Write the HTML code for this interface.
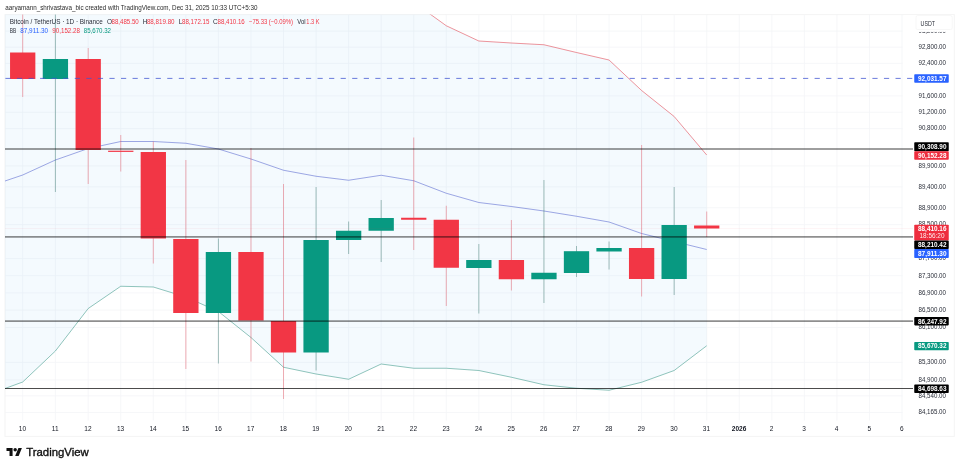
<!DOCTYPE html>
<html lang="en"><head><meta charset="utf-8"><title>BTCUSDT chart</title>
<style>html,body{margin:0;padding:0;background:#fff;overflow:hidden}svg{display:block}text{font-family:"Liberation Sans",sans-serif}</style></head><body>
<svg width="960" height="468" viewBox="0 0 960 468">
<rect width="960" height="468" fill="#fff"/>
<defs><clipPath id="pane"><rect x="5.0" y="14.6" width="908.0" height="405.9"/></clipPath></defs>
<rect x="5.0" y="14.6" width="949.3" height="421.8" fill="none" stroke="#f4f4f4" stroke-width="1"/>
<path d="M22.70,14.6 V420.5 M55.40,14.6 V420.5 M88.21,14.6 V420.5 M120.76,14.6 V420.5 M153.31,14.6 V420.5 M185.86,14.6 V420.5 M218.42,14.6 V420.5 M250.97,14.6 V420.5 M283.52,14.6 V420.5 M316.08,14.6 V420.5 M348.63,14.6 V420.5 M381.18,14.6 V420.5 M413.74,14.6 V420.5 M446.29,14.6 V420.5 M478.84,14.6 V420.5 M511.39,14.6 V420.5 M543.95,14.6 V420.5 M576.50,14.6 V420.5 M609.05,14.6 V420.5 M641.61,14.6 V420.5 M674.16,14.6 V420.5 M706.71,14.6 V420.5 M739.27,14.6 V420.5 M771.82,14.6 V420.5 M804.37,14.6 V420.5 M836.92,14.6 V420.5 M869.48,14.6 V420.5 M902.03,14.6 V420.5 M5.0,31.11 H902.5 M5.0,47.20 H902.5 M5.0,63.36 H902.5 M5.0,95.88 H902.5 M5.0,112.25 H902.5 M5.0,128.68 H902.5 M5.0,165.94 H902.5 M5.0,186.80 H902.5 M5.0,207.78 H902.5 M5.0,224.64 H902.5 M5.0,258.60 H902.5 M5.0,275.70 H902.5 M5.0,292.88 H902.5 M5.0,310.13 H902.5 M5.0,327.47 H902.5 M5.0,362.38 H902.5 M5.0,379.96 H902.5 M5.0,395.85 H902.5 M5.0,412.48 H902.5" stroke="#f4f5f8" stroke-width="0.8" fill="none"/>
<g clip-path="url(#pane)">
<path d="M5.00,-200.00 L22.70,-200.00 L55.40,-200.00 L88.21,-200.00 L120.76,-200.00 L153.31,-200.00 L185.86,-200.00 L218.42,-200.00 L250.97,-200.00 L283.52,-200.00 L316.08,-150.00 L348.63,-100.00 L381.18,-40.00 L413.74,2.30 L446.29,25.75 L478.84,41.00 L511.39,43.00 L543.95,44.75 L576.50,52.50 L609.05,60.00 L641.61,90.50 L674.16,116.50 L706.71,155.00 L706.71,345.75 L674.16,370.50 L641.61,382.25 L609.05,390.25 L576.50,388.25 L543.95,384.75 L511.39,377.25 L478.84,370.50 L446.29,368.25 L413.74,368.25 L381.18,364.00 L348.63,379.25 L316.08,374.00 L283.52,367.25 L250.97,337.50 L218.42,311.50 L185.86,297.00 L153.31,287.00 L120.76,286.25 L88.21,308.50 L55.40,351.00 L22.70,382.00 L5.00,388.50 Z" fill="#2196f3" fill-opacity="0.05"/>
<path d="M5.00,-200.00 L22.70,-200.00 L55.40,-200.00 L88.21,-200.00 L120.76,-200.00 L153.31,-200.00 L185.86,-200.00 L218.42,-200.00 L250.97,-200.00 L283.52,-200.00 L316.08,-150.00 L348.63,-100.00 L381.18,-40.00 L413.74,2.30 L446.29,25.75 L478.84,41.00 L511.39,43.00 L543.95,44.75 L576.50,52.50 L609.05,60.00 L641.61,90.50 L674.16,116.50 L706.71,155.00" fill="none" stroke="#e0404e" stroke-opacity="0.7" stroke-width="0.8"/>
<path d="M5.00,181.00 L22.70,175.00 L55.40,160.00 L88.21,148.50 L120.76,141.50 L153.31,141.50 L185.86,143.25 L218.42,149.00 L250.97,159.00 L283.52,170.25 L316.08,176.25 L348.63,180.25 L381.18,175.25 L413.74,180.75 L446.29,193.25 L478.84,202.50 L511.39,206.50 L543.95,211.00 L576.50,216.25 L609.05,222.00 L641.61,233.50 L674.16,241.50 L706.71,249.50" fill="none" stroke="#3949c6" stroke-opacity="0.6" stroke-width="0.8"/>
<path d="M5.00,388.50 L22.70,382.00 L55.40,351.00 L88.21,308.50 L120.76,286.25 L153.31,287.00 L185.86,297.00 L218.42,311.50 L250.97,337.50 L283.52,367.25 L316.08,374.00 L348.63,379.25 L381.18,364.00 L413.74,368.25 L446.29,368.25 L478.84,370.50 L511.39,377.25 L543.95,384.75 L576.50,388.25 L609.05,390.25 L641.61,382.25 L674.16,370.50 L706.71,345.75" fill="none" stroke="#2a8f7d" stroke-opacity="0.65" stroke-width="0.8"/>
<path d="M22.70,10 V97" stroke="#e03a48" stroke-opacity="0.5" stroke-width="0.8"/>
<rect x="10.05" y="52.5" width="25.3" height="26.50" fill="#f23645"/>
<path d="M55.40,10 V192" stroke="#2f6f64" stroke-opacity="0.55" stroke-width="0.8"/>
<rect x="42.75" y="59" width="25.3" height="20.00" fill="#089981"/>
<path d="M88.21,48 V184" stroke="#e03a48" stroke-opacity="0.5" stroke-width="0.8"/>
<rect x="75.56" y="59" width="25.3" height="91.00" fill="#f23645"/>
<path d="M120.76,135 V171.5" stroke="#e03a48" stroke-opacity="0.5" stroke-width="0.8"/>
<rect x="108.11" y="150.7" width="25.3" height="1.20" fill="#f23645"/>
<path d="M153.31,141.5 V263.5" stroke="#e03a48" stroke-opacity="0.5" stroke-width="0.8"/>
<rect x="140.66" y="152" width="25.3" height="86.50" fill="#f23645"/>
<path d="M185.86,160 V369" stroke="#e03a48" stroke-opacity="0.5" stroke-width="0.8"/>
<rect x="173.21" y="239" width="25.3" height="74.00" fill="#f23645"/>
<path d="M218.42,238.5 V363.5" stroke="#2f6f64" stroke-opacity="0.55" stroke-width="0.8"/>
<rect x="205.77" y="252" width="25.3" height="61.00" fill="#089981"/>
<path d="M250.97,148 V361.5" stroke="#e03a48" stroke-opacity="0.5" stroke-width="0.8"/>
<rect x="238.32" y="252" width="25.3" height="68.50" fill="#f23645"/>
<path d="M283.52,184 V399" stroke="#e03a48" stroke-opacity="0.5" stroke-width="0.8"/>
<rect x="270.87" y="321" width="25.3" height="31.50" fill="#f23645"/>
<path d="M316.08,187 V370.5" stroke="#2f6f64" stroke-opacity="0.55" stroke-width="0.8"/>
<rect x="303.43" y="240" width="25.3" height="112.50" fill="#089981"/>
<path d="M348.63,221.5 V254" stroke="#2f6f64" stroke-opacity="0.55" stroke-width="0.8"/>
<rect x="335.98" y="230.75" width="25.3" height="9.25" fill="#089981"/>
<path d="M381.18,200 V262" stroke="#2f6f64" stroke-opacity="0.55" stroke-width="0.8"/>
<rect x="368.53" y="218" width="25.3" height="12.75" fill="#089981"/>
<path d="M413.74,137.5 V250" stroke="#e03a48" stroke-opacity="0.5" stroke-width="0.8"/>
<rect x="401.09" y="217.75" width="25.3" height="2.00" fill="#f23645"/>
<path d="M446.29,205.75 V306" stroke="#e03a48" stroke-opacity="0.5" stroke-width="0.8"/>
<rect x="433.64" y="219.75" width="25.3" height="48.00" fill="#f23645"/>
<path d="M478.84,244 V313.5" stroke="#2f6f64" stroke-opacity="0.55" stroke-width="0.8"/>
<rect x="466.19" y="260" width="25.3" height="8.00" fill="#089981"/>
<path d="M511.39,220 V290.5" stroke="#e03a48" stroke-opacity="0.5" stroke-width="0.8"/>
<rect x="498.75" y="260" width="25.3" height="19.25" fill="#f23645"/>
<path d="M543.95,180 V303" stroke="#2f6f64" stroke-opacity="0.55" stroke-width="0.8"/>
<rect x="531.30" y="272.75" width="25.3" height="6.50" fill="#089981"/>
<path d="M576.50,246 V277" stroke="#2f6f64" stroke-opacity="0.55" stroke-width="0.8"/>
<rect x="563.85" y="251.2" width="25.3" height="21.80" fill="#089981"/>
<path d="M609.05,241.5 V269.5" stroke="#2f6f64" stroke-opacity="0.55" stroke-width="0.8"/>
<rect x="596.40" y="248" width="25.3" height="3.50" fill="#089981"/>
<path d="M641.61,145 V296.5" stroke="#e03a48" stroke-opacity="0.5" stroke-width="0.8"/>
<rect x="628.96" y="248" width="25.3" height="31.00" fill="#f23645"/>
<path d="M674.16,187 V295" stroke="#2f6f64" stroke-opacity="0.55" stroke-width="0.8"/>
<rect x="661.51" y="225" width="25.3" height="54.00" fill="#089981"/>
<path d="M706.71,211.5 V237" stroke="#e03a48" stroke-opacity="0.5" stroke-width="0.8"/>
<rect x="694.06" y="225.5" width="25.3" height="3.00" fill="#f23645"/>
</g>
<path d="M5.0,228.5 H913.0" stroke="#f23645" stroke-opacity="0.09" stroke-width="0.6"/>
<rect x="5.0" y="148.0" width="908.0" height="2.0" fill="#000" fill-opacity="0.38"/>
<rect x="5.0" y="236.0" width="908.0" height="1.75" fill="#000" fill-opacity="0.44"/>
<rect x="5.0" y="320.25" width="908.0" height="1.75" fill="#000" fill-opacity="0.44"/>
<rect x="5.0" y="388.0" width="908.0" height="1.0" fill="#000" fill-opacity="0.7"/>
<path d="M5.4,78.4 H913.0" stroke="#4257d2" stroke-opacity="0.78" stroke-width="1" stroke-dasharray="5.2 6.36"/>
<g font-size="6.5" fill="#2a2e39">
<text x="918.5" y="33.40" textLength="27.5" lengthAdjust="spacingAndGlyphs">93,200.00</text>
<text x="918.5" y="49.00" textLength="27.5" lengthAdjust="spacingAndGlyphs">92,800.00</text>
<text x="918.5" y="65.16" textLength="27.5" lengthAdjust="spacingAndGlyphs">92,400.00</text>
<text x="918.5" y="97.68" textLength="27.5" lengthAdjust="spacingAndGlyphs">91,600.00</text>
<text x="918.5" y="114.05" textLength="27.5" lengthAdjust="spacingAndGlyphs">91,200.00</text>
<text x="918.5" y="130.48" textLength="27.5" lengthAdjust="spacingAndGlyphs">90,800.00</text>
<text x="918.5" y="167.74" textLength="27.5" lengthAdjust="spacingAndGlyphs">89,900.00</text>
<text x="918.5" y="188.60" textLength="27.5" lengthAdjust="spacingAndGlyphs">89,400.00</text>
<text x="918.5" y="209.58" textLength="27.5" lengthAdjust="spacingAndGlyphs">88,900.00</text>
<text x="918.5" y="226.44" textLength="27.5" lengthAdjust="spacingAndGlyphs">88,500.00</text>
<text x="918.5" y="260.40" textLength="27.5" lengthAdjust="spacingAndGlyphs">87,700.00</text>
<text x="918.5" y="277.50" textLength="27.5" lengthAdjust="spacingAndGlyphs">87,300.00</text>
<text x="918.5" y="294.68" textLength="27.5" lengthAdjust="spacingAndGlyphs">86,900.00</text>
<text x="918.5" y="311.93" textLength="27.5" lengthAdjust="spacingAndGlyphs">86,500.00</text>
<text x="918.5" y="329.27" textLength="27.5" lengthAdjust="spacingAndGlyphs">86,100.00</text>
<text x="918.5" y="364.18" textLength="27.5" lengthAdjust="spacingAndGlyphs">85,300.00</text>
<text x="918.5" y="381.76" textLength="27.5" lengthAdjust="spacingAndGlyphs">84,900.00</text>
<text x="918.5" y="397.65" textLength="27.5" lengthAdjust="spacingAndGlyphs">84,540.00</text>
<text x="918.5" y="414.28" textLength="27.5" lengthAdjust="spacingAndGlyphs">84,165.00</text>
</g>
<rect x="904" y="15.3" width="49" height="16.6" fill="#fff"/>
<rect x="916" y="15.6" width="36.2" height="13.9" rx="1.5" fill="#fff" stroke="#f2f2f2" stroke-width="0.6"/>
<text x="920.6" y="25.8" font-size="6.5" fill="#2a2e39" textLength="14.4" lengthAdjust="spacingAndGlyphs">USDT</text>
<rect x="914.25" y="74.25" width="34.5" height="8.50" rx="0.8" fill="#2962ff"/>
<text x="918" y="80.80" font-size="6.5" font-weight="bold" fill="#fff" textLength="28.5" lengthAdjust="spacingAndGlyphs">92,031.57</text>
<rect x="914.25" y="142.25" width="34.5" height="9.00" rx="0.8" fill="#000"/>
<text x="918" y="149.05" font-size="6.5" font-weight="bold" fill="#fff" textLength="28.5" lengthAdjust="spacingAndGlyphs">90,308.90</text>
<rect x="914.25" y="151.25" width="34.5" height="8.50" rx="0.8" fill="#ee2d3e"/>
<text x="918" y="157.80" font-size="6.5" font-weight="bold" fill="#fff" textLength="28.5" lengthAdjust="spacingAndGlyphs">90,152.28</text>
<rect x="914.25" y="224.75" width="34.5" height="15.85" rx="0.8" fill="#ee2d3e"/>
<text x="918" y="230.85" font-size="6.5" font-weight="bold" fill="#fff" textLength="28.5" lengthAdjust="spacingAndGlyphs">88,410.16</text>
<text x="919.5" y="238.15" font-size="6.5" fill="#fff" fill-opacity="0.9" textLength="25" lengthAdjust="spacingAndGlyphs">18:56:20</text>
<rect x="914.25" y="240.6" width="34.5" height="8.50" rx="0.8" fill="#000"/>
<text x="918" y="247.15" font-size="6.5" font-weight="bold" fill="#fff" textLength="28.5" lengthAdjust="spacingAndGlyphs">88,210.42</text>
<rect x="914.25" y="249.1" width="34.5" height="9.00" rx="0.8" fill="#2962ff"/>
<text x="918" y="255.90" font-size="6.5" font-weight="bold" fill="#fff" textLength="28.5" lengthAdjust="spacingAndGlyphs">87,911.30</text>
<rect x="914.25" y="317.1" width="34.5" height="8.30" rx="0.8" fill="#000"/>
<text x="918" y="323.55" font-size="6.5" font-weight="bold" fill="#fff" textLength="28.5" lengthAdjust="spacingAndGlyphs">86,247.92</text>
<rect x="914.25" y="341.9" width="34.5" height="8.35" rx="0.8" fill="#089981"/>
<text x="918" y="348.38" font-size="6.5" font-weight="bold" fill="#fff" textLength="28.5" lengthAdjust="spacingAndGlyphs">85,670.32</text>
<rect x="914.25" y="384.6" width="34.5" height="8.50" rx="0.8" fill="#000"/>
<text x="918" y="391.15" font-size="6.5" font-weight="bold" fill="#fff" textLength="28.5" lengthAdjust="spacingAndGlyphs">84,698.63</text>
<g font-size="6.5" fill="#131722" text-anchor="middle">
<text x="22.45" y="431.1">10</text>
<text x="55.15" y="431.1">11</text>
<text x="87.96" y="431.1">12</text>
<text x="120.51" y="431.1">13</text>
<text x="153.06" y="431.1">14</text>
<text x="185.61" y="431.1">15</text>
<text x="218.17" y="431.1">16</text>
<text x="250.72" y="431.1">17</text>
<text x="283.27" y="431.1">18</text>
<text x="315.83" y="431.1">19</text>
<text x="348.38" y="431.1">20</text>
<text x="380.93" y="431.1">21</text>
<text x="413.49" y="431.1">22</text>
<text x="446.04" y="431.1">23</text>
<text x="478.59" y="431.1">24</text>
<text x="511.14" y="431.1">25</text>
<text x="543.70" y="431.1">26</text>
<text x="576.25" y="431.1">27</text>
<text x="608.80" y="431.1">28</text>
<text x="641.36" y="431.1">29</text>
<text x="673.91" y="431.1">30</text>
<text x="706.46" y="431.1">31</text>
<text x="739.02" y="431.1" font-weight="bold">2026</text>
<text x="771.57" y="431.1">2</text>
<text x="804.12" y="431.1">3</text>
<text x="836.67" y="431.1">4</text>
<text x="869.23" y="431.1">5</text>
<text x="901.78" y="431.1">6</text>
</g>
<text x="5.3" y="10.2" font-size="6.7" fill="#2a2a2a" textLength="252.2" lengthAdjust="spacingAndGlyphs">aaryamann_shrivastava_bic created with TradingView.com, Dec 31, 2025 10:33 UTC+5:30</text>
<text x="9.75" y="24.2" font-size="6.5" fill="#2a2e39" textLength="93.00" lengthAdjust="spacingAndGlyphs">Bitcoin / TetherUS · 1D · Binance</text>
<text x="107" y="24.2" font-size="6.5" fill="#2a2e39">O</text>
<text x="111.5" y="24.2" font-size="6.5" fill="#f23645" textLength="27.25" lengthAdjust="spacingAndGlyphs">88,485.50</text>
<text x="142.75" y="24.2" font-size="6.5" fill="#2a2e39">H</text>
<text x="146.9" y="24.2" font-size="6.5" fill="#f23645" textLength="27.70" lengthAdjust="spacingAndGlyphs">88,819.80</text>
<text x="178.75" y="24.2" font-size="6.5" fill="#2a2e39">L</text>
<text x="182" y="24.2" font-size="6.5" fill="#f23645" textLength="27.40" lengthAdjust="spacingAndGlyphs">88,172.15</text>
<text x="213" y="24.2" font-size="6.5" fill="#2a2e39">C</text>
<text x="217.5" y="24.2" font-size="6.5" fill="#f23645" textLength="27.25" lengthAdjust="spacingAndGlyphs">88,410.16</text>
<text x="249" y="24.2" font-size="6.5" fill="#f23645" textLength="44.00" lengthAdjust="spacingAndGlyphs">−75.33 (−0.09%)</text>
<text x="297.25" y="24.2" font-size="6.5" fill="#2a2e39" textLength="8.35" lengthAdjust="spacingAndGlyphs">Vol</text>
<text x="306.25" y="24.2" font-size="6.5" fill="#f23645" textLength="13.15" lengthAdjust="spacingAndGlyphs">1.3 K</text>
<text x="9.75" y="32.8" font-size="6.5" fill="#2a2e39" textLength="6.50" lengthAdjust="spacingAndGlyphs">BB</text>
<text x="20.25" y="32.8" font-size="6.5" fill="#2962ff" textLength="27.85" lengthAdjust="spacingAndGlyphs">87,911.30</text>
<text x="52.25" y="32.8" font-size="6.5" fill="#f23645" textLength="27.75" lengthAdjust="spacingAndGlyphs">90,152.28</text>
<text x="83.75" y="32.8" font-size="6.5" fill="#089981" textLength="27.25" lengthAdjust="spacingAndGlyphs">85,670.32</text>
<g transform="translate(6.5 446.35) scale(0.434)" fill="#111"><path d="M14 22H7V11H0V4h14v18zM28 22h-8l7.5-18h8L28 22z"/><circle cx="20" cy="8" r="4"/></g>
<text x="26.2" y="455.6" font-size="10.8" fill="#111" stroke="#111" stroke-width="0.35" stroke-linejoin="round" textLength="62.6" lengthAdjust="spacingAndGlyphs">TradingView</text>
</svg></body></html>
